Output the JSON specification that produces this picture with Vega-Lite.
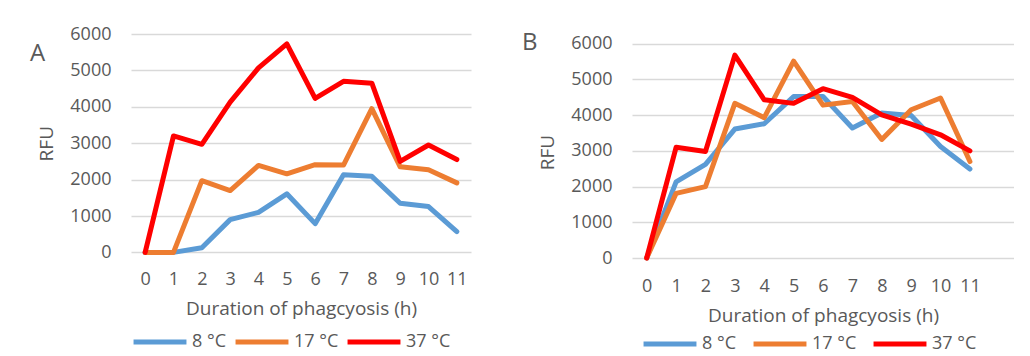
{
  "$schema": "https://vega.github.io/schema/vega-lite/v6.json",
  "padding": {"left": 30, "top": 25, "right": 0, "bottom": 0},
  "background": "white",
  "spacing": 51,
  "config": {
    "font": "Open Sans",
    "view": {"stroke": null},
    "axis": {"labelFont": "Open Sans", "titleFont": "Open Sans", "labelColor": "#595959", "titleColor": "#595959", "labelFontSize": 18, "titleFontSize": 19, "titleFontWeight": "normal", "domain": false, "ticks": false},
    "legend": {"orient": "none", "direction": "horizontal", "gridAlign": "none", "symbolType": "stroke", "symbolSize": 2800, "symbolStrokeWidth": 5, "labelFont": "Open Sans", "labelFontSize": 18, "labelColor": "#595959", "labelOffset": 3, "columnPadding": 6},
    "title": {"font": "Open Sans", "fontSize": 24, "fontWeight": "normal", "color": "#595959", "anchor": "start", "frame": "group", "offset": 0, "baseline": "middle"}
  },
  "datasets": {
    "A": [
      {"h":0,"t":"8 °C","v":0},{"h":1,"t":"8 °C","v":0},{"h":2,"t":"8 °C","v":130},{"h":3,"t":"8 °C","v":900},{"h":4,"t":"8 °C","v":1100},{"h":5,"t":"8 °C","v":1610},{"h":6,"t":"8 °C","v":790},{"h":7,"t":"8 °C","v":2130},{"h":8,"t":"8 °C","v":2090},{"h":9,"t":"8 °C","v":1350},{"h":10,"t":"8 °C","v":1260},{"h":11,"t":"8 °C","v":570},
      {"h":0,"t":"17 °C","v":0},{"h":1,"t":"17 °C","v":0},{"h":2,"t":"17 °C","v":1970},{"h":3,"t":"17 °C","v":1700},{"h":4,"t":"17 °C","v":2390},{"h":5,"t":"17 °C","v":2160},{"h":6,"t":"17 °C","v":2410},{"h":7,"t":"17 °C","v":2400},{"h":8,"t":"17 °C","v":3950},{"h":9,"t":"17 °C","v":2350},{"h":10,"t":"17 °C","v":2270},{"h":11,"t":"17 °C","v":1910},
      {"h":0,"t":"37 °C","v":0},{"h":1,"t":"37 °C","v":3200},{"h":2,"t":"37 °C","v":2970},{"h":3,"t":"37 °C","v":4130},{"h":4,"t":"37 °C","v":5070},{"h":5,"t":"37 °C","v":5730},{"h":6,"t":"37 °C","v":4230},{"h":7,"t":"37 °C","v":4700},{"h":8,"t":"37 °C","v":4650},{"h":9,"t":"37 °C","v":2500},{"h":10,"t":"37 °C","v":2950},{"h":11,"t":"37 °C","v":2550}
    ],
    "B": [
      {"h":0,"t":"8 °C","v":0},{"h":1,"t":"8 °C","v":2130},{"h":2,"t":"8 °C","v":2620},{"h":3,"t":"8 °C","v":3610},{"h":4,"t":"8 °C","v":3760},{"h":5,"t":"8 °C","v":4520},{"h":6,"t":"8 °C","v":4520},{"h":7,"t":"8 °C","v":3640},{"h":8,"t":"8 °C","v":4060},{"h":9,"t":"8 °C","v":3990},{"h":10,"t":"8 °C","v":3120},{"h":11,"t":"8 °C","v":2490},
      {"h":0,"t":"17 °C","v":0},{"h":1,"t":"17 °C","v":1810},{"h":2,"t":"17 °C","v":2000},{"h":3,"t":"17 °C","v":4330},{"h":4,"t":"17 °C","v":3930},{"h":5,"t":"17 °C","v":5510},{"h":6,"t":"17 °C","v":4280},{"h":7,"t":"17 °C","v":4380},{"h":8,"t":"17 °C","v":3320},{"h":9,"t":"17 °C","v":4150},{"h":10,"t":"17 °C","v":4480},{"h":11,"t":"17 °C","v":2700},
      {"h":0,"t":"37 °C","v":0},{"h":1,"t":"37 °C","v":3100},{"h":2,"t":"37 °C","v":2980},{"h":3,"t":"37 °C","v":5680},{"h":4,"t":"37 °C","v":4430},{"h":5,"t":"37 °C","v":4330},{"h":6,"t":"37 °C","v":4740},{"h":7,"t":"37 °C","v":4500},{"h":8,"t":"37 °C","v":4010},{"h":9,"t":"37 °C","v":3750},{"h":10,"t":"37 °C","v":3450},{"h":11,"t":"37 °C","v":3000}
    ]
  },
  "resolve": {"scale": {"color": "independent", "x": "independent", "y": "independent"}, "legend": {"color": "independent"}},
  "hconcat": [
    {
      "width": 340,
      "height": 218.4,
      "title": {"text": "A", "dx": -101, "dy": 45},
      "data": {"name": "A"},
      "mark": {"type": "line", "strokeWidth": 5, "strokeJoin": "round", "strokeCap": "round"},
      "encoding": {
        "x": {"field": "h", "type": "ordinal", "scale": {"domain": [0,1,2,3,4,5,6,7,8,9,10,11], "padding": 0.5}, "axis": {"labelAngle": 0, "labelPadding": 18, "title": "Duration of phagcyosis (h)", "titlePadding": 11}},
        "y": {"field": "v", "type": "quantitative", "scale": {"domain": [0, 6000]}, "axis": {"values": [0,1000,2000,3000,4000,5000,6000], "format": "d", "grid": true, "gridColor": "#d9d9d9", "gridWidth": 1.3, "labelPadding": 20, "title": "RFU", "titlePadding": 13}},
        "color": {"field": "t", "type": "nominal", "sort": null, "scale": {"domain": ["8 °C","17 °C","37 °C"], "range": ["#5B9BD5","#ED7D31","#FF0000"]}, "legend": {"title": null, "legendX": 0, "legendY": 279, "gridAlign": "none", "columnPadding": -2}}
      }
    },
    {
      "width": 382,
      "height": 224,
      "title": {"text": "B", "dx": -110, "dy": 25},
      "data": {"name": "B"},
      "mark": {"type": "line", "strokeWidth": 5, "strokeJoin": "round", "strokeCap": "round"},
      "encoding": {
        "x": {"field": "h", "type": "ordinal", "scale": {"domain": [0,1,2,3,4,5,6,7,8,9,10,11,12], "padding": 0.5}, "axis": {"labelAngle": 0, "labelPadding": 19, "labelExpr": "datum.value == 12 ? '' : datum.label", "title": "Duration of phagcyosis (h)", "titlePadding": 11}},
        "y": {"field": "v", "type": "quantitative", "scale": {"domain": [0, 6272], "nice": false}, "axis": {"values": [0,1000,2000,3000,4000,5000,6000], "format": "d", "grid": true, "gridColor": "#d9d9d9", "gridWidth": 1.3, "labelPadding": 20, "title": "RFU", "titlePadding": 13, "titleY": 118}},
        "color": {"field": "t", "type": "nominal", "sort": null, "scale": {"domain": ["8 °C","17 °C","37 °C"], "range": ["#5B9BD5","#ED7D31","#FF0000"]}, "legend": {"title": null, "legendX": 9, "legendY": 281}}
      }
    }
  ]
}
